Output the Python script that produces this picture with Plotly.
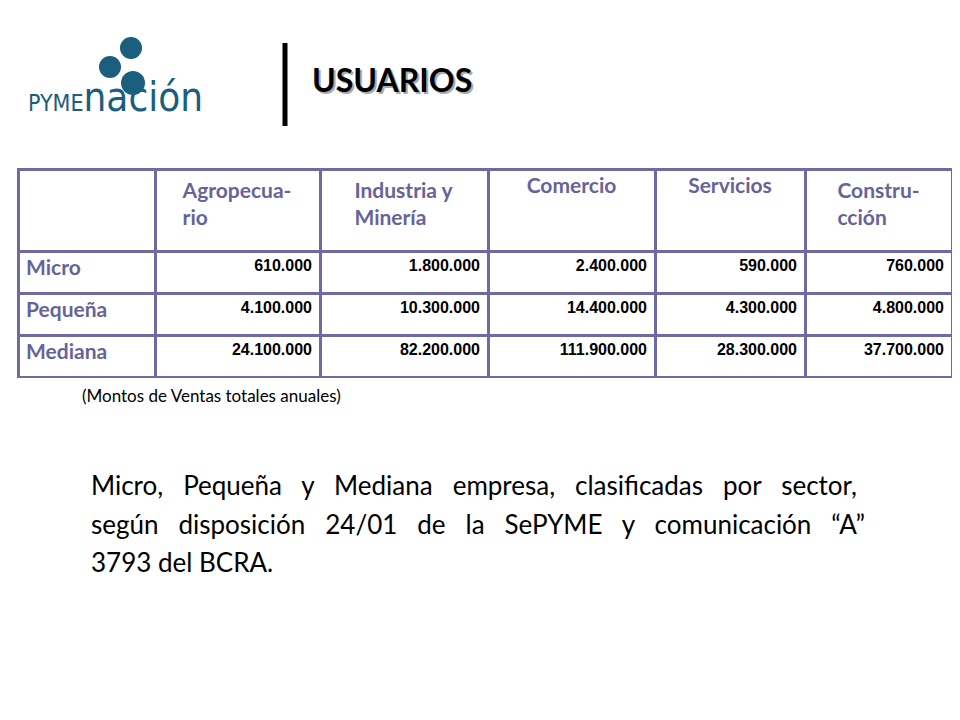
import plotly.graph_objects as go

columns = ["", "Agropecua-<br>rio", "Industria y<br>Minería", "Comercio", "Servicios", "Constru-<br>cción"]
sizes = ["Micro", "Pequeña", "Mediana"]
agro = ["610.000", "4.100.000", "24.100.000"]
industria = ["1.800.000", "10.300.000", "82.200.000"]
comercio = ["2.400.000", "14.400.000", "111.900.000"]
servicios = ["590.000", "4.300.000", "28.300.000"]
construccion = ["760.000", "4.800.000", "37.700.000"]

PURPLE = "#67639a"
GRID = "#6e6aa3"
W, H = 960, 720
OFF = 8  # page body margin shifts everything


def px(x):
    return (x - OFF) / W


def py(y):
    return 1 - (y - OFF) / H


fig = go.Figure()
fig.add_trace(go.Table(
    domain=dict(x=[px(18), px(952)], y=[py(379), py(169)]),
    columnwidth=[137, 165, 168, 167, 150, 147],
    header=dict(
        values=columns,
        align="center", height=82,
        font=dict(family="Lato, Noto Sans", size=21, color=PURPLE, weight="bold"),
        line=dict(color=GRID, width=3), fill_color="white",
    ),
    cells=dict(
        values=[sizes, agro, industria, comercio, servicios, construccion],
        align=["left"] + ["right"] * 5, height=42,
        font=dict(family=["Lato, Noto Sans"] + ["Liberation Sans, Arial"] * 5,
                  size=[21] + [16] * 5, color=[PURPLE] + ["black"] * 5, weight="bold"),
        line=dict(color=GRID, width=3), fill_color="white",
    ),
))

# PYMEnación logo
for cx, cy, r in [(131, 48, 11), (110, 67, 11), (133, 83, 12)]:
    fig.add_shape(type="circle", xref="paper", yref="paper",
                  x0=px(cx - r), x1=px(cx + r), y0=py(cy + r), y1=py(cy - r),
                  fillcolor="#1b5e7e", line_width=0)
fig.add_annotation(x=px(26), y=py(97), xref="paper", yref="paper", xanchor="left", yanchor="middle",
                   text="<span style='font-size:23px'>PYME</span><span style='font-size:40px'>nación</span>",
                   showarrow=False, font=dict(family="DejaVu Sans Condensed, Noto Sans", color="#1b5e7e"))
# divider and title
fig.add_shape(type="line", xref="paper", yref="paper", x0=px(285), x1=px(285),
              y0=py(126), y1=py(43), line=dict(color="black", width=5))
for col, dx in [("#aaaaaa", 2), ("black", 0)]:
    fig.add_annotation(x=px(310), y=py(80), xref="paper", yref="paper", xanchor="left", yanchor="middle",
                       text="<b>USUARIOS</b>", showarrow=False, xshift=dx, yshift=-dx,
                       font=dict(family="Lato, Noto Sans", size=32, color=col))

fig.add_annotation(x=px(80), y=py(395), xref="paper", yref="paper", xanchor="left", yanchor="middle",
                   text="(Montos de Ventas totales anuales)", showarrow=False,
                   font=dict(family="Lato, Noto Sans", size=17, color="black"))

lines = ["Micro, Pequeña y Mediana empresa, clasificadas por sector,",
         "según disposición 24/01 de la SePYME y comunicación “A”",
         "3793 del BCRA."]
gaps = ["&nbsp;&nbsp; ", "&nbsp;&nbsp; ", " "]
for i, t in enumerate(lines):
    fig.add_annotation(x=px(89), y=py(485 + 38.5 * i), xref="paper", yref="paper",
                       xanchor="left", yanchor="middle", text=t.replace(" ", gaps[i]), showarrow=False,
                       font=dict(family="Lato, Noto Sans", size=26, color="black"))

fig.update_layout(width=W, height=H, margin=dict(l=0, r=0, t=0, b=0),
                  paper_bgcolor="white", plot_bgcolor="white",
                  xaxis=dict(visible=False), yaxis=dict(visible=False))
fig.write_html("out.html")
